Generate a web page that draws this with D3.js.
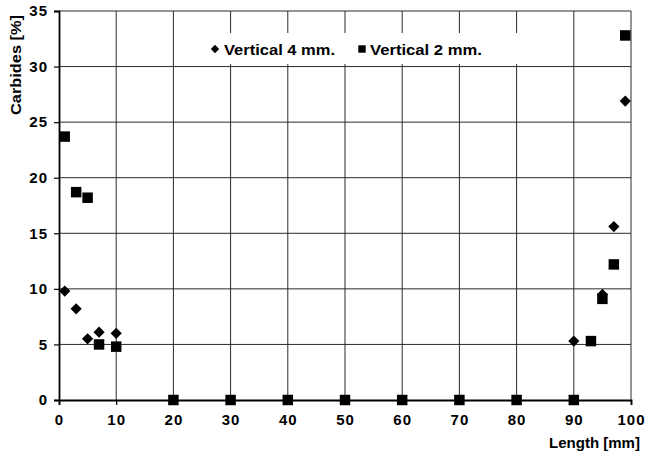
<!DOCTYPE html>
<html>
<head>
<meta charset="utf-8">
<script src="https://cdn.jsdelivr.net/npm/d3@7"></script>
<style>
  body{margin:0;background:#fff;}
  svg text{font-family:"Liberation Sans",Arial,sans-serif;font-weight:bold;fill:#000;}
</style>
</head>
<body>
<svg id="chart" width="645" height="455"></svg>
<script>
// ── data ──
const xTicks=[0,10,20,30,40,50,60,70,80,90,100];
const yTicks=[0,5,10,15,20,25,30,35];
const v4x=[1,3,5,7,10,90,95,97,99];
const v4y=[9.8,8.2,5.5,6.1,6.0,5.3,9.5,15.6,26.9];
const v2x=[1,3,5,7,10,20,30,40,50,60,70,80,90,93,95,97,99];
const v2y=[23.7,18.7,18.2,5.0,4.8,0,0,0,0,0,0,0,0,5.3,9.1,12.2,32.8];
const seriesNames=["Vertical 4 mm.","Vertical 2 mm."];

const M={l:59,r:631,t:11,b:400};
const svg=d3.select("#chart");
const x=d3.scaleLinear().domain([0,100]).range([M.l,M.r]);
const y=d3.scaleLinear().domain([0,35]).range([M.b,M.t]);

// grid
const g=svg.append("g");
g.selectAll("line.vx").data(xTicks.slice(1)).join("line")
  .attr("x1",d=>x(d)).attr("x2",d=>x(d)).attr("y1",M.t).attr("y2",M.b)
  .attr("stroke","#2a2a2a").attr("stroke-width",1);
g.selectAll("line.hy").data(yTicks.slice(1)).join("line")
  .attr("x1",M.l).attr("x2",M.r).attr("y1",d=>y(d)).attr("y2",d=>y(d))
  .attr("stroke","#2a2a2a").attr("stroke-width",1);

// legend box (white, covers grid)
const lg=svg.append("g");
lg.append("rect").attr("x",181).attr("y",33).attr("width",340).attr("height",31).attr("fill","#fff");

// axes
const xa=svg.append("g").attr("transform",`translate(0,${M.b})`)
  .call(d3.axisBottom(x).tickValues(xTicks).tickSize(5).tickPadding(9));
const ya=svg.append("g").attr("transform",`translate(${M.l},0)`)
  .call(d3.axisLeft(y).tickValues(yTicks).tickSize(5).tickPadding(6));
[xa,ya].forEach(a=>{
  a.select(".domain").attr("stroke","#000").attr("stroke-width",1.8);
  a.selectAll(".tick line").attr("stroke","#000").attr("stroke-width",1.2);
  a.selectAll(".tick text").attr("font-size",15).attr("font-family","Liberation Sans, Arial")
    .attr("font-weight","bold").attr("fill","#000").attr("letter-spacing",1);
});

// markers
const sq=d3.symbol().type(d3.symbolSquare).size(110);
const dm=d3.symbol().type(d3.symbolDiamond2).size(80);
svg.append("g").selectAll("path").data(v2x.map((d,i)=>[d,v2y[i]])).join("path")
  .attr("d",sq).attr("transform",d=>`translate(${x(d[0])},${y(d[1])})`).attr("fill","#000");
svg.append("g").selectAll("path").data(v4x.map((d,i)=>[d,v4y[i]])).join("path")
  .attr("d",dm).attr("transform",d=>`translate(${x(d[0])},${y(d[1])})`).attr("fill","#000");

// legend
lg.append("path").attr("d",d3.symbol().type(d3.symbolDiamond2).size(45)).attr("transform","translate(215,49)");
lg.append("text").attr("x",224).attr("y",55).attr("font-size",15)
  .attr("textLength",111).attr("lengthAdjust","spacingAndGlyphs").text(seriesNames[0]);
lg.append("path").attr("d",d3.symbol().type(d3.symbolSquare).size(55)).attr("transform","translate(362,49)");
lg.append("text").attr("x",370).attr("y",55).attr("font-size",15)
  .attr("textLength",112).attr("lengthAdjust","spacingAndGlyphs").text(seriesNames[1]);

// axis titles
svg.append("text").attr("transform","translate(21,65) rotate(-90)").attr("text-anchor","middle")
  .attr("font-size",14).attr("textLength",100).attr("lengthAdjust","spacingAndGlyphs").text("Carbides [%]");
svg.append("text").attr("x",640).attr("y",448).attr("text-anchor","end")
  .attr("font-size",15).attr("textLength",91).attr("lengthAdjust","spacingAndGlyphs").text("Length [mm]");
</script>
</body>
</html>
